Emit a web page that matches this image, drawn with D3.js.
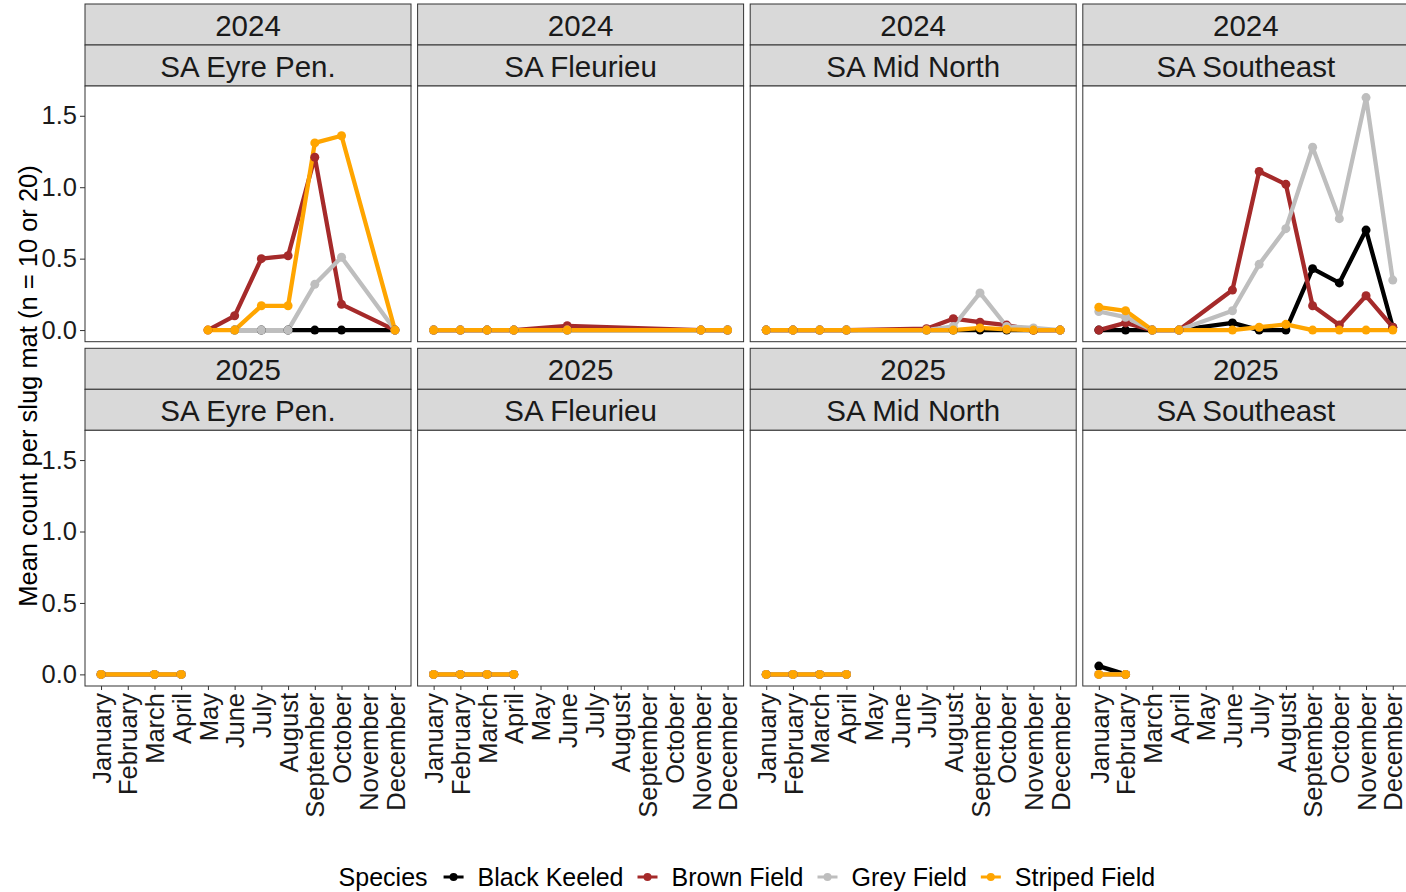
<!DOCTYPE html>
<html>
<head>
<meta charset="utf-8">
<script src="https://cdn.jsdelivr.net/npm/d3@7"></script>
<style>
  body { margin: 0; background: #fff; }
  text { font-family: "Liberation Sans", Arial, sans-serif; }
</style>
</head>
<body>
<div id="chart"></div>
<script>
var months = ["January", "February", "March", "April", "May", "June", "July",
  "August", "September", "October", "November", "December"];
var years = ["2024", "2025"];
var regions = ["SA Eyre Pen.", "SA Fleurieu", "SA Mid North", "SA Southeast"];
var species = ["Black Keeled", "Brown Field", "Grey Field", "Striped Field"];
var speciesColors = ["#000000", "#A52A2A", "#BEBEBE", "#FFA500"];
var yTicks = [0, 0.5, 1.0, 1.5];

var n = null;
// rows follow the species order: Black Keeled, Brown Field, Grey Field, Striped Field
var eyre2024 = [
  [n, n, n, n, n, 0, 0, 0, 0, 0, n, 0],
  [n, n, n, n, 0, 0.10, 0.50, 0.52, 1.21, 0.18, n, 0],
  [n, n, n, n, n, 0, 0, 0, 0.32, 0.51, n, 0],
  [n, n, n, n, 0, 0, 0.17, 0.17, 1.31, 1.36, n, 0]
];
var fleurieu2024 = [
  [0, 0, 0, 0, n, 0, n, n, n, n, 0, 0],
  [0, 0, 0, 0, n, 0.03, n, n, n, n, 0, 0],
  [0, 0, 0, 0, n, 0, n, n, n, n, 0, 0],
  [0, 0, 0, 0, n, 0, n, n, n, n, 0, 0]
];
var midNorth2024 = [
  [0, 0, 0, 0, n, n, 0, 0, 0, 0, 0, 0],
  [0, 0, 0, 0, n, n, 0.01, 0.08, 0.055, 0.035, 0, 0],
  [0, 0, 0, 0, n, n, 0, 0.025, 0.26, 0.025, 0.015, 0],
  [0, 0, 0, 0, n, n, 0, 0, 0.015, 0.005, 0, 0]
];
var southeast2024 = [
  [0, 0, 0, 0, n, 0.05, 0, 0, 0.43, 0.33, 0.70, 0.02],
  [0, 0.05, 0, 0, n, 0.28, 1.11, 1.02, 0.17, 0.035, 0.24, 0.02],
  [0.13, 0.09, 0, 0, n, 0.135, 0.46, 0.71, 1.28, 0.78, 1.627, 0.35],
  [0.16, 0.135, 0, 0, n, 0, 0.02, 0.04, 0, 0, 0, 0]
];
var eyre2025 = [
  [0, n, 0, 0, n, n, n, n, n, n, n, n],
  [0, n, 0, 0, n, n, n, n, n, n, n, n],
  [0, n, 0, 0, n, n, n, n, n, n, n, n],
  [0, n, 0, 0, n, n, n, n, n, n, n, n]
];
var fleurieu2025 = [
  [0, 0, 0, 0, n, n, n, n, n, n, n, n],
  [0, 0, 0, 0, n, n, n, n, n, n, n, n],
  [0, 0, 0, 0, n, n, n, n, n, n, n, n],
  [0, 0, 0, 0, n, n, n, n, n, n, n, n]
];
var midNorth2025 = [
  [0, 0, 0, 0, n, n, n, n, n, n, n, n],
  [0, 0, 0, 0, n, n, n, n, n, n, n, n],
  [0, 0, 0, 0, n, n, n, n, n, n, n, n],
  [0, 0, 0, 0, n, n, n, n, n, n, n, n]
];
var southeast2025 = [
  [0.058, 0, n, n, n, n, n, n, n, n, n, n],
  [0, 0, n, n, n, n, n, n, n, n, n, n],
  [0, 0, n, n, n, n, n, n, n, n, n, n],
  [0, 0, n, n, n, n, n, n, n, n, n, n]
];

var panelData = [
  [eyre2024, fleurieu2024, midNorth2024, southeast2024],
  [eyre2025, fleurieu2025, midNorth2025, southeast2025]
];

// Layout
var svgWidth = 1406;
var svgHeight = 892;
var left = 85;
var panelW = 326;
var gapX = 6.6;
var stripH = 41;
var plotH = 255.7;
var rowTops = [4, 348.3];

var svg = d3.select("#chart")
  .append("svg")
  .attr("width", svgWidth)
  .attr("height", svgHeight);

// Scales shared by all panels
var x = d3.scalePoint()
  .domain(months)
  .range([0, panelW])
  .padding(0.6);

var allValues = d3.merge(panelData.map(row => d3.merge(row.map(p => d3.merge(p)))))
  .filter(v => v != null);
var yMax = d3.max(allValues);
var yMin = 0;
var pad = (yMax - yMin) * 0.05;
var y = d3.scaleLinear()
  .domain([yMin - pad, yMax + pad])
  .range([plotH, 0]);

var line = d3.line()
  .x(d => x(d.month))
  .y(d => y(d.value));

panelData.forEach(function(row, r) {
  row.forEach(function(panel, c) {
    var px = left + c * (panelW + gapX);
    var py = rowTops[r];
    var g = svg.append("g").attr("transform", `translate(${px}, ${py})`);

    // Strips: year on top, region below
    [years[r], regions[c]].forEach(function(label, i) {
      g.append("rect")
        .attr("x", 0)
        .attr("y", i * stripH)
        .attr("width", panelW)
        .attr("height", stripH)
        .attr("fill", "#D9D9D9")
        .attr("stroke", "#333333")
        .attr("stroke-width", 1);
      g.append("text")
        .attr("x", panelW / 2)
        .attr("y", i * stripH + stripH / 2 + 1)
        .attr("text-anchor", "middle")
        .attr("dominant-baseline", "central")
        .attr("font-size", "29.5px")
        .attr("fill", "#1A1A1A")
        .text(label);
    });

    var plot = g.append("g").attr("transform", `translate(0, ${2 * stripH})`);

    plot.append("rect")
      .attr("width", panelW)
      .attr("height", plotH)
      .attr("fill", "#fff");

    var clip = "clip-" + r + "-" + c;
    plot.append("clipPath").attr("id", clip)
      .append("rect").attr("width", panelW).attr("height", plotH);

    var marks = plot.append("g").attr("clip-path", `url(#${clip})`);

    var seriesList = panel.map(function(vals, s) {
      return {
        species: species[s],
        color: speciesColors[s],
        points: vals.map((v, m) => ({ month: months[m], value: v })).filter(d => d.value != null)
      };
    });

    marks.selectAll("path.series")
      .data(seriesList)
      .enter()
      .append("path")
      .attr("class", "series")
      .attr("d", d => line(d.points))
      .attr("fill", "none")
      .attr("stroke", d => d.color)
      .attr("stroke-width", 4.3)
      .attr("stroke-linejoin", "round");

    seriesList.forEach(function(sr) {
      marks.selectAll(null)
        .data(sr.points)
        .enter()
        .append("circle")
        .attr("cx", d => x(d.month))
        .attr("cy", d => y(d.value))
        .attr("r", 4.5)
        .attr("fill", sr.color);
    });

    plot.append("rect")
      .attr("width", panelW)
      .attr("height", plotH)
      .attr("fill", "none")
      .attr("stroke", "#333333")
      .attr("stroke-width", 1);

    // Y axis on the left column
    if (c === 0) {
      var yAxis = plot.append("g")
        .call(d3.axisLeft(y).tickValues(yTicks).tickFormat(d3.format(".1f")).tickSize(5).tickPadding(3));
      yAxis.select(".domain").remove();
      yAxis.selectAll("line").attr("stroke", "#333333");
      yAxis.selectAll("text")
        .attr("font-size", "25.5px")
        .attr("fill", "#1A1A1A")
        .attr("font-family", "Liberation Sans, Arial, sans-serif");
    }

    // X axis on the bottom row
    if (r === 1) {
      var xAxis = plot.append("g")
        .attr("transform", `translate(0, ${plotH})`)
        .call(d3.axisBottom(x).tickSize(4));
      xAxis.select(".domain").remove();
      xAxis.selectAll("line").attr("stroke", "#333333");
      xAxis.selectAll("text")
        .attr("transform", "rotate(-90)")
        .attr("x", -7)
        .attr("y", 0)
        .attr("dy", "0.36em")
        .attr("text-anchor", "end")
        .attr("font-size", "25.5px")
        .attr("fill", "#1A1A1A")
        .attr("font-family", "Liberation Sans, Arial, sans-serif");
    }
  });
});

// Y axis title
var plotsMid = (rowTops[0] + 2 * stripH + rowTops[1] + 2 * stripH + plotH) / 2;
svg.append("text")
  .attr("transform", `translate(28, ${plotsMid}) rotate(-90)`)
  .attr("text-anchor", "middle")
  .attr("dominant-baseline", "central")
  .attr("font-size", "25.5px")
  .attr("fill", "#000")
  .text("Mean count per slug mat (n = 10 or 20)");

// Legend along the bottom
var legendY = 877;
var legend = svg.append("g");
var cursor = 0;
var title = legend.append("text")
  .attr("x", cursor)
  .attr("y", legendY)
  .attr("dominant-baseline", "central")
  .attr("font-size", "25px")
  .text("Species");
cursor += title.node().getComputedTextLength() + 16;

species.forEach(function(sp, i) {
  legend.append("line")
    .attr("x1", cursor)
    .attr("x2", cursor + 20)
    .attr("y1", legendY)
    .attr("y2", legendY)
    .attr("stroke", speciesColors[i])
    .attr("stroke-width", 3);
  legend.append("circle")
    .attr("cx", cursor + 10)
    .attr("cy", legendY)
    .attr("r", 4)
    .attr("fill", speciesColors[i]);
  cursor += 34;
  var t = legend.append("text")
    .attr("x", cursor)
    .attr("y", legendY)
    .attr("dominant-baseline", "central")
    .attr("font-size", "25px")
    .text(sp);
  cursor += t.node().getComputedTextLength() + 14;
});
cursor -= 14;
var panelsMid = left + (4 * panelW + 3 * gapX) / 2;
legend.attr("transform", `translate(${panelsMid - cursor / 2}, 0)`);
</script>
</body>
</html>
